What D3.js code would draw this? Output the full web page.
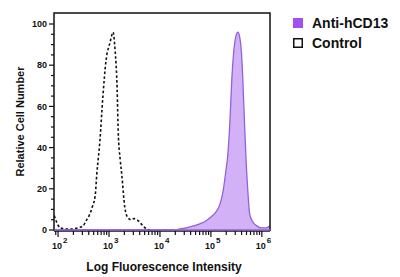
<!DOCTYPE html>
<html>
<head>
<meta charset="utf-8">
<script src="https://cdn.jsdelivr.net/npm/d3@7"></script>
<style>
  body { margin: 0; background: #fff; }
  svg text { font-family: "Liberation Sans", Arial, Helvetica, sans-serif; font-weight: bold; }
</style>
</head>
<body>
<div id="maindiv"></div>
<script>
// ---- data ----
var ctrlIntensity = [84, 95, 110, 145, 186, 245, 309, 355, 407, 468, 537, 575, 661, 759, 871,
                     1047, 1202, 1318, 1445, 1514, 1660, 1778, 2042, 2344, 2692, 3090, 3548, 4266, 5129, 6310];
var ctrlCount     = [7, 3.5, 1, 0.5, 0.5, 1, 2, 4.5, 7, 11, 17, 27, 43, 65, 82,
                     91, 96, 87, 68, 48, 34, 27, 11, 6, 5, 5.5, 5, 3, 1, 0];

var cd13Intensity = [19500, 24550, 38900, 60260, 79430, 100000, 125900, 151400, 173800, 195000,
                     213800, 234400, 257000, 281800, 309000, 338800, 371500, 407400, 446700, 489800,
                     537000, 575400, 660700, 794300, 1000000, 1202000, 1445000];
var cd13Count     = [0, 0.5, 1.5, 3, 4.4, 6.3, 8.8, 12.7, 19, 28,
                     36, 51, 73, 87, 94, 96, 93, 82, 58, 34,
                     17, 8, 4, 2, 1, 1, 2];

var yTicks = [0, 20, 40, 60, 80, 100];
var xDecades = [2, 3, 4, 5, 6];
var legendLabels = ["Anti-hCD13", "Control"];

var width = 400, height = 277;
var margin = { top: 13, right: 130, bottom: 47, left: 54 };

var svg = d3.select("#maindiv").append("svg")
    .attr("width", width)
    .attr("height", height);

var x = d3.scaleLog()
    .domain([Math.pow(10, 1.92), Math.pow(10, 6.16)])
    .range([margin.left, width - margin.right]);

var y = d3.scaleLinear()
    .domain([0, 100])
    .range([230, 24]);

var purple = "#a24ff2";
var fillPurple = "#d2b1f6";
var edgePurple = "#9263d6";

// ---- anti-hCD13 histogram ----
var cd13 = cd13Intensity.map(function (v, i) { return [v, cd13Count[i]]; });
cd13.unshift([x.domain()[0], 0]);

var area = d3.area()
    .x(function (d) { return x(d[0]); })
    .y0(y(0))
    .y1(function (d) { return y(d[1]); })
    .curve(d3.curveMonotoneX);

var line = d3.line()
    .x(function (d) { return x(d[0]); })
    .y(function (d) { return y(d[1]); })
    .curve(d3.curveMonotoneX);

svg.append("path").datum(cd13)
    .attr("d", area)
    .attr("fill", fillPurple);

svg.append("path").datum(cd13)
    .attr("d", line)
    .attr("fill", "none")
    .attr("stroke", edgePurple)
    .attr("stroke-width", 1.3);

// ---- control histogram (dotted) ----
var ctrl = ctrlIntensity.map(function (v, i) { return [v, ctrlCount[i]]; });
svg.append("path").datum(ctrl)
    .attr("d", line)
    .attr("fill", "none")
    .attr("stroke", "#111")
    .attr("stroke-width", 1.6)
    .attr("stroke-dasharray", "2.6,2.2");

// ---- frame ----
var x0 = margin.left, x1 = width - margin.right, yTop = margin.top, yBot = y(0) + 1;
svg.append("path")
    .attr("d", "M" + x0 + "," + yBot + "V" + yTop + "H" + x1 + "V" + yBot)
    .attr("fill", "none")
    .attr("stroke", "#111")
    .attr("stroke-width", 1.5);

// ---- y axis ----
var yAxisG = svg.append("g");
d3.range(0, 101, 5).forEach(function (v) {
    var major = v % 20 === 0;
    yAxisG.append("line")
        .attr("x1", x0).attr("x2", x0 - (major ? 5 : 3))
        .attr("y1", y(v)).attr("y2", y(v))
        .attr("stroke", "#111").attr("stroke-width", 1.2);
});
yAxisG.selectAll("text").data(yTicks).enter().append("text")
    .attr("x", x0 - 7)
    .attr("y", function (d) { return y(d); })
    .attr("dy", "0.35em")
    .attr("text-anchor", "end")
    .attr("font-size", 9)
    .attr("fill", "#111")
    .text(function (d) { return d; });

// ---- x axis ----
var xAxisG = svg.append("g");
xAxisG.append("line")
    .attr("x1", x0).attr("x2", x1)
    .attr("y1", yBot).attr("y2", yBot)
    .attr("stroke", "#111").attr("stroke-width", 1.3);
var dom = x.domain();
for (var e = 1; e <= 6; e++) {
    for (var m = 1; m <= 9; m++) {
        var v = m * Math.pow(10, e);
        if (v < dom[0] || v > dom[1]) continue;
        xAxisG.append("line")
            .attr("x1", x(v)).attr("x2", x(v))
            .attr("y1", yBot).attr("y2", yBot + (m === 1 ? 6 : 4))
            .attr("stroke", "#111").attr("stroke-width", 1.2);
    }
}
// purple baseline of the histogram
svg.append("line")
    .attr("x1", x0).attr("x2", x1)
    .attr("y1", y(0)).attr("y2", y(0))
    .attr("stroke", edgePurple).attr("stroke-width", 1.4);

var xl = xAxisG.selectAll(".xl").data(xDecades).enter().append("text")
    .attr("class", "xl")
    .attr("x", function (d) { return x(Math.pow(10, d)) - 6; })
    .attr("y", 249)
    .attr("font-size", 9)
    .attr("fill", "#111");
xl.append("tspan").text("10");
xl.append("tspan")
    .attr("dx", 1)
    .attr("dy", -6)
    .attr("font-size", 8)
    .text(function (d) { return d; });

// ---- axis titles ----
svg.append("text")
    .attr("x", (x0 + x1) / 2 + 2)
    .attr("y", 271)
    .attr("text-anchor", "middle")
    .attr("font-size", 12)
    .attr("fill", "#111")
    .text("Log Fluorescence Intensity");

svg.append("text")
    .attr("transform", "translate(24," + ((yTop + y(0)) / 2) + ") rotate(-90)")
    .attr("text-anchor", "middle")
    .attr("font-size", 11)
    .attr("fill", "#111")
    .text("Relative Cell Number");

// ---- legend ----
var leg = svg.append("g").attr("transform", "translate(293,18)");
leg.selectAll("rect").data(legendLabels).enter().append("rect")
    .attr("x", function (d, i) { return i === 0 ? 0 : 0.75; })
    .attr("y", function (d, i) { return i * 20 + (i === 0 ? 0 : 0.75); })
    .attr("width", function (d, i) { return i === 0 ? 10 : 8.5; })
    .attr("height", function (d, i) { return i === 0 ? 10 : 8.5; })
    .attr("fill", function (d, i) { return i === 0 ? purple : "#fff"; })
    .attr("stroke", function (d, i) { return i === 0 ? "none" : "#111"; })
    .attr("stroke-width", 1.5);
leg.selectAll("text").data(legendLabels).enter().append("text")
    .attr("x", 19)
    .attr("y", function (d, i) { return i * 20 + 10; })
    .attr("font-size", 14)
    .attr("fill", "#111")
    .text(function (d) { return d; });
</script>
</body>
</html>
